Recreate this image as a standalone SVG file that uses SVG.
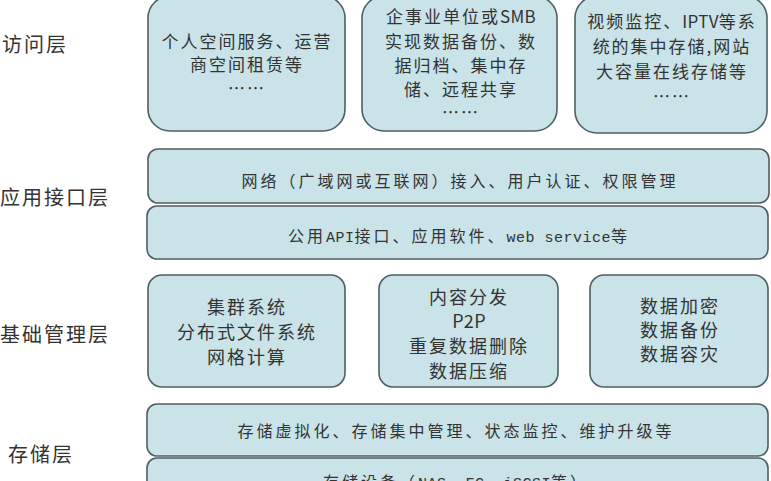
<svg xmlns="http://www.w3.org/2000/svg" width="771" height="481" viewBox="0 0 771 481">
<style>
.box{fill:#c9e3e8;stroke:#4f5f63;stroke-width:1.6}
.t{font-family:"Noto Sans CJK SC","Noto Sans",sans-serif;fill:#333;text-anchor:middle;font-size:17px;letter-spacing:2px}
.s{font-family:"Noto Sans CJK SC","Noto Sans",sans-serif;fill:#333;text-anchor:middle;font-size:16px;letter-spacing:3px}
.m{font-family:"Noto Sans CJK SC","Noto Sans",sans-serif;fill:#333;text-anchor:middle;font-size:18px;letter-spacing:2px}
.l{font-family:"Noto Sans CJK SC","Noto Sans",sans-serif;fill:#333;font-size:20px;letter-spacing:2px}
.lat{letter-spacing:0.3px}
.mono{font-family:"Liberation Mono",monospace;font-size:15px;letter-spacing:0.5px}
</style>
<rect width="771" height="481" fill="#fff"/>
<g id="labels">
<text class="l" x="2" y="52">访问层</text>
<text class="l" x="0" y="205">应用接口层</text>
<text class="l" x="0" y="342">基础管理层</text>
<text class="l" x="8" y="462">存储层</text>
</g>
<g id="access1">
<rect class="box" x="148" y="-4" width="197" height="135" rx="22"/>
<text class="t" x="247" y="48">个人空间服务、运营</text>
<text class="t" x="247" y="71">商空间租赁等</text>
<text class="t" x="247" y="95">……</text>
</g>
<g id="access2">
<rect class="box" x="362" y="-4" width="195" height="135" rx="22"/>
<text class="t" x="461" y="23">企事业单位或<tspan class="lat">SMB</tspan></text>
<text class="t" x="461" y="48">实现数据备份、数</text>
<text class="t" x="461" y="72">据归档、集中存</text>
<text class="t" x="461" y="96">储、远程共享</text>
<text class="t" x="461" y="119">……</text>
</g>
<g id="access3">
<rect class="box" x="575" y="-4" width="192" height="137" rx="22"/>
<text class="t" x="672" y="28">视频监控、<tspan class="lat">IPTV</tspan>等系</text>
<text class="t" x="672" y="53">统的集中存储,网站</text>
<text class="t" x="672" y="78">大容量在线存储等</text>
<text class="t" x="672" y="103">……</text>
</g>
<g id="app1">
<rect class="box" x="148" y="149" width="621" height="54" rx="10"/>
<text class="s" x="460" y="187">网络（广域网或互联网）接入、用户认证、权限管理</text>
</g>
<g id="app2">
<rect class="box" x="147" y="206" width="621" height="53" rx="10"/>
<text class="s" x="459" y="242">公用<tspan class="mono">API</tspan>接口、应用软件、<tspan class="mono">web service</tspan>等</text>
</g>
<g id="mgmt1">
<rect class="box" x="148" y="275" width="197" height="112" rx="14"/>
<text class="m" x="247" y="314">集群系统</text>
<text class="m" x="247" y="339">分布式文件系统</text>
<text class="m" x="247" y="364">网格计算</text>
</g>
<g id="mgmt2">
<rect class="box" x="379" y="275" width="179" height="112" rx="14"/>
<text class="m" x="469" y="304">内容分发</text>
<text class="m" x="469" y="328"><tspan class="lat">P2P</tspan></text>
<text class="m" x="469" y="353">重复数据删除</text>
<text class="m" x="469" y="378">数据压缩</text>
</g>
<g id="mgmt3">
<rect class="box" x="590" y="275" width="178" height="112" rx="14"/>
<text class="m" x="680" y="313">数据加密</text>
<text class="m" x="680" y="337">数据备份</text>
<text class="m" x="680" y="361">数据容灾</text>
</g>
<g id="storage1">
<rect class="box" x="147" y="404" width="621" height="52" rx="10"/>
<text class="s" x="456" y="437">存储虚拟化、存储集中管理、状态监控、维护升级等</text>
</g>
<g id="storage2">
<rect class="box" x="147" y="458" width="621" height="40" rx="10"/>
<text class="s" x="456" y="488">存储设备（<tspan class="mono">NAS</tspan>、<tspan class="mono">FC</tspan>、<tspan class="mono">iSCSI</tspan>等）</text>
</g>
<g id="connectors"></g>
</svg>
